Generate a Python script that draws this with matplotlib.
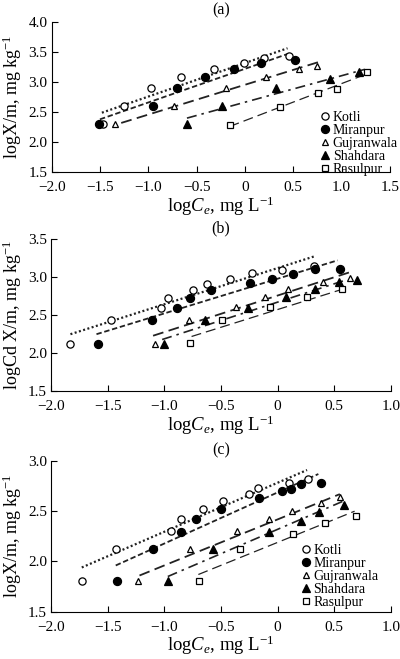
import matplotlib
matplotlib.use('Agg')
import matplotlib.pyplot as plt

# フォント設定 (Times風)
plt.rcParams['font.family'] = ['Liberation Serif', 'DejaVu Serif']
plt.rcParams['mathtext.fontset'] = 'custom'
plt.rcParams['mathtext.rm'] = 'Liberation Serif'
plt.rcParams['mathtext.it'] = 'Liberation Serif:italic'
plt.rcParams['font.size'] = 11

sites = ['Kotli', 'Miranpur', 'Gujranwala', 'Shahdara', 'Rasulpur']

# ---- (a) ----
a_kotli_x = [-1.47, -1.25, -0.97, -0.66, -0.32, -0.01, 0.20, 0.46]
a_kotli_y = [2.30, 2.60, 2.90, 3.08, 3.21, 3.32, 3.39, 3.43]
a_miranpur_x = [-1.51, -0.95, -0.70, -0.41, -0.11, 0.17, 0.52]
a_miranpur_y = [2.30, 2.60, 2.90, 3.08, 3.21, 3.31, 3.37]
a_gujranwala_x = [-1.34, -0.73, -0.20, 0.22, 0.56, 0.74]
a_gujranwala_y = [2.30, 2.60, 2.90, 3.08, 3.21, 3.26]
a_shahdara_x = [-0.60, -0.24, 0.32, 0.88, 1.18]
a_shahdara_y = [2.30, 2.60, 2.90, 3.05, 3.17]
a_rasulpur_x = [-0.16, 0.36, 0.76, 0.95, 1.26]
a_rasulpur_y = [2.28, 2.58, 2.82, 2.89, 3.17]
a_fit_x0 = [-1.48, -1.50, -1.28, -0.60, -0.16]
a_fit_x1 = [0.44, 0.45, 0.76, 1.24, 1.27]
a_fit_y0 = [2.49, 2.38, 2.32, 2.40, 2.26]
a_fit_y1 = [3.56, 3.47, 3.33, 3.21, 3.14]

# ---- (b) ----
b_kotli_x = [-1.83, -1.47, -1.03, -0.97, -0.75, -0.62, -0.42, -0.23, 0.04, 0.32]
b_kotli_y = [2.12, 2.43, 2.60, 2.73, 2.83, 2.91, 2.98, 3.05, 3.09, 3.15]
b_miranpur_x = [-1.59, -1.11, -0.89, -0.77, -0.59, -0.24, -0.05, 0.14, 0.33, 0.55]
b_miranpur_y = [2.12, 2.44, 2.60, 2.73, 2.83, 2.92, 2.98, 3.04, 3.10, 3.11]
b_gujranwala_x = [-1.08, -0.78, -0.37, -0.11, 0.09, 0.40, 0.64]
b_gujranwala_y = [2.12, 2.44, 2.61, 2.74, 2.84, 2.93, 2.99]
b_shahdara_x = [-1.00, -0.64, -0.26, 0.07, 0.33, 0.54, 0.70]
b_shahdara_y = [2.12, 2.44, 2.60, 2.74, 2.84, 2.93, 2.96]
b_rasulpur_x = [-0.77, -0.49, -0.07, 0.26, 0.57]
b_rasulpur_y = [2.13, 2.44, 2.61, 2.74, 2.85]
b_fit_x0 = [-1.83, -1.60, -1.10, -1.02, -0.76]
b_fit_x1 = [0.32, 0.53, 0.63, 0.60, 0.55]
b_fit_y0 = [2.25, 2.25, 2.23, 2.18, 2.22]
b_fit_y1 = [3.27, 3.22, 3.06, 2.96, 2.83]

# ---- (c) ----
c_kotli_x = [-1.73, -1.43, -0.94, -0.85, -0.66, -0.48, -0.25, -0.17, 0.10, 0.27]
c_kotli_y = [1.81, 2.12, 2.30, 2.42, 2.52, 2.60, 2.67, 2.73, 2.78, 2.82]
c_miranpur_x = [-1.42, -1.10, -0.85, -0.72, -0.50, -0.16, 0.04, 0.12, 0.21, 0.38]
c_miranpur_y = [1.81, 2.12, 2.29, 2.42, 2.52, 2.63, 2.70, 2.72, 2.77, 2.78]
c_gujranwala_x = [-1.23, -0.77, -0.36, -0.08, 0.13, 0.38, 0.55]
c_gujranwala_y = [1.81, 2.12, 2.30, 2.42, 2.50, 2.58, 2.64]
c_shahdara_x = [-0.97, -0.57, -0.08, 0.21, 0.37, 0.59]
c_shahdara_y = [1.81, 2.12, 2.29, 2.40, 2.49, 2.56]
c_rasulpur_x = [-0.69, -0.33, 0.14, 0.42, 0.69]
c_rasulpur_y = [1.81, 2.12, 2.27, 2.38, 2.45]
c_fit_x0 = [-1.73, -1.43, -1.22, -0.97, -0.70]
c_fit_x1 = [0.26, 0.36, 0.55, 0.60, 0.68]
c_fit_y0 = [1.94, 1.96, 1.86, 1.85, 1.87]
c_fit_y1 = [2.91, 2.87, 2.67, 2.61, 2.50]

# マーカーと線種
markers = {
    'Kotli': dict(marker='o', mfc='white', ms=5.2),
    'Miranpur': dict(marker='o', mfc='black', ms=5.8),
    'Gujranwala': dict(marker='^', mfc='white', ms=5.0),
    'Shahdara': dict(marker='^', mfc='black', ms=5.4),
    'Rasulpur': dict(marker='s', mfc='white', ms=4.4),
}
linestyles = {
    'Kotli': ((0, (0.9, 1.1)), 1.6),
    'Miranpur': ((0, (3.0, 1.5)), 1.3),
    'Gujranwala': ((0, (6.0, 3.0)), 1.3),
    'Shahdara': ((0, (6.0, 3.0, 1.5, 3.0)), 1.2),
    'Rasulpur': ((0, (8.0, 4.0)), 0.9),
}


def draw_panel(ax, xs, ys, fx0, fx1, fy0, fy1, title, ylabel, ylim, xlim, yticks, xticks, legend_anchor):
    for i, site in enumerate(sites):
        ls, lw = linestyles[site]
        ax.plot([fx0[i], fx1[i]], [fy0[i], fy1[i]], color='#222222', linestyle=ls, linewidth=lw, zorder=2)
    for i, site in enumerate(sites):
        m = markers[site]
        ax.plot(xs[i], ys[i], linestyle='none', marker=m['marker'], markerfacecolor=m['mfc'],
                markeredgecolor='black', markeredgewidth=0.9, markersize=m['ms'],
                label=site, zorder=3, clip_on=False)

    ax.set_xlim(*xlim)
    ax.set_ylim(*ylim)
    ax.set_xticks(xticks)
    ax.set_yticks(yticks)
    ax.set_xticklabels(['0' if t == 0 else f'{t:.1f}'.replace('-', '\u2212') for t in xticks])
    ax.set_yticklabels([f'{t:.1f}' for t in yticks])
    ax.spines['top'].set_visible(False)
    ax.spines['right'].set_visible(False)
    ax.tick_params(direction='in', length=4, width=0.8, labelsize=11)
    ax.tick_params(axis='x', pad=6.5)
    ax.tick_params(axis='y', pad=3)
    ax.set_title(title, fontsize=11.5, pad=5)
    ax.set_xlabel(r'log$C_e$, mg L$^{-1}$', fontsize=13.5, labelpad=0)
    ax.set_ylabel(ylabel, fontsize=13, labelpad=3)

    if legend_anchor is not None:
        ax.legend(loc='lower right', bbox_to_anchor=legend_anchor, frameon=False, fontsize=10,
                  handlelength=0.5, handletextpad=0.3, labelspacing=0.0, borderpad=0.2)


fig = plt.figure(figsize=(4.0, 6.59), dpi=100)

ax_a = fig.add_axes([0.129, 0.7385, 0.846, 0.2285])
draw_panel(ax_a,
           [a_kotli_x, a_miranpur_x, a_gujranwala_x, a_shahdara_x, a_rasulpur_x],
           [a_kotli_y, a_miranpur_y, a_gujranwala_y, a_shahdara_y, a_rasulpur_y],
           a_fit_x0, a_fit_x1, a_fit_y0, a_fit_y1,
           '(a)', r'logX/m, mg kg$^{-1}$', (1.5, 4.0), (-2.0, 1.5),
           [1.5, 2.0, 2.5, 3.0, 3.5, 4.0], [-2.0, -1.5, -1.0, -0.5, 0, 0.5, 1.0, 1.5], (1.052, -0.088))

ax_b = fig.add_axes([0.128, 0.4062, 0.849, 0.2311])
draw_panel(ax_b,
           [b_kotli_x, b_miranpur_x, b_gujranwala_x, b_shahdara_x, b_rasulpur_x],
           [b_kotli_y, b_miranpur_y, b_gujranwala_y, b_shahdara_y, b_rasulpur_y],
           b_fit_x0, b_fit_x1, b_fit_y0, b_fit_y1,
           '(b)', r'logCd X/m, mg kg$^{-1}$', (1.5, 3.5), (-2.0, 1.0),
           [1.5, 2.0, 2.5, 3.0, 3.5], [-2.0, -1.5, -1.0, -0.5, 0, 0.5, 1.0], None)

ax_c = fig.add_axes([0.128, 0.0718, 0.849, 0.2287])
draw_panel(ax_c,
           [c_kotli_x, c_miranpur_x, c_gujranwala_x, c_shahdara_x, c_rasulpur_x],
           [c_kotli_y, c_miranpur_y, c_gujranwala_y, c_shahdara_y, c_rasulpur_y],
           c_fit_x0, c_fit_x1, c_fit_y0, c_fit_y1,
           '(c)', r'logX/m, mg kg$^{-1}$', (1.5, 3.0), (-2.0, 1.0),
           [1.5, 2.0, 2.5, 3.0], [-2.0, -1.5, -1.0, -0.5, 0, 0.5, 1.0], (0.992, -0.045))

fig.savefig('out.png', dpi=100)
plt.close(fig)
